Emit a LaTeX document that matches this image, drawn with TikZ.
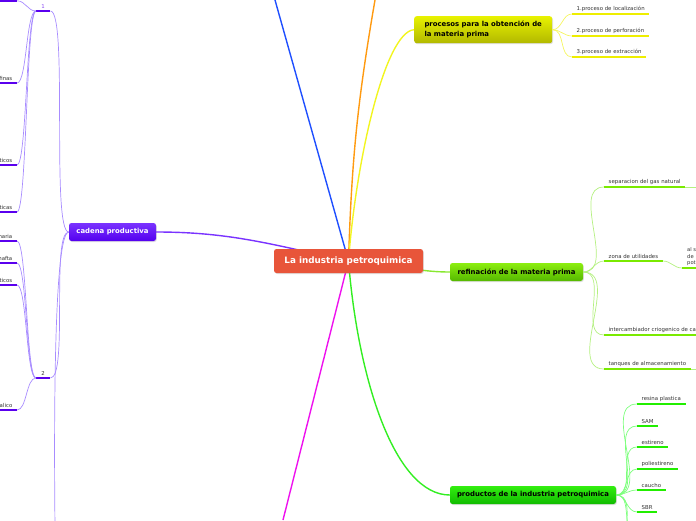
\documentclass[tikz,border=0pt]{standalone}
\usepackage{fontspec}
\setmainfont{DejaVu Sans}
\usetikzlibrary{shadows,backgrounds}
\definecolor{rootred}{HTML}{E8553A}
\definecolor{bblue}{HTML}{1F4FFF}
\definecolor{borange}{HTML}{FF9A10}
\definecolor{byellow}{HTML}{F2F520}
\definecolor{ylight}{HTML}{F5F560}
\definecolor{yline}{HTML}{EEEE00}
\definecolor{ytop}{HTML}{E8F200}
\definecolor{ybot}{HTML}{B2B800}
\definecolor{rgreen}{HTML}{88E830}
\definecolor{rlight}{HTML}{B4F080}
\definecolor{rline}{HTML}{7AEA00}
\definecolor{rtop}{HTML}{8CEE10}
\definecolor{rbot}{HTML}{55B800}
\definecolor{pgreen}{HTML}{33EE22}
\definecolor{plight}{HTML}{7CFF7C}
\definecolor{pline}{HTML}{22EE00}
\definecolor{ptop}{HTML}{33EE10}
\definecolor{pbot}{HTML}{10BB00}
\definecolor{bmag}{HTML}{EE11EE}
\definecolor{bpurple}{HTML}{7A33FF}
\definecolor{ulight}{HTML}{A88CFF}
\definecolor{uline}{HTML}{5A00EE}
\definecolor{utop}{HTML}{7A33FF}
\definecolor{ubot}{HTML}{5400EE}
\definecolor{leaftext}{HTML}{333333}
\tikzset{
  boxbase/.style={rounded corners=2.5pt, inner sep=0pt, font={\fontsize{6.9}{9.6}\selectfont\bfseries},
    drop shadow={shadow xshift=0.8pt,shadow yshift=-1pt,opacity=0.25}},
  rootbox/.style={boxbase, fill=rootred, text=white, minimum width=149pt, minimum height=24pt,
    font={\fontsize{8.8}{10}\selectfont\bfseries}},
  ybox/.style={boxbase, top color=ytop, bottom color=ybot, text=black, minimum width=138pt, minimum height=27pt, align=left},
  rbox/.style={boxbase, top color=rtop, bottom color=rbot, text=black, minimum width=133pt, minimum height=18pt},
  pbox/.style={boxbase, top color=ptop, bottom color=pbot, text=black, minimum width=166pt, minimum height=18pt},
  ubox/.style={boxbase, top color=utop, bottom color=ubot, text=white, minimum width=87pt, minimum height=18pt},
  leaf/.style={anchor=south west, inner xsep=4.5pt, inner ysep=2pt, text=leaftext,
    font={\fontsize{5.4}{6.4}\selectfont}},
  lleaf/.style={leaf, anchor=south east},
  mainconn/.style={line width=1.4pt},
  subconn/.style={line width=0.7pt},
  ulw/.style={line width=2.3pt}
}
\begin{document}
\begin{tikzpicture}[x=1pt,y=-1pt]
\useasboundingbox (0,0) rectangle (696,520);
\clip (0,0) rectangle (696,520);

% ---------- nodes ----------
\node[rootbox] (root) at (348.5,261) {La industria petroquimica};
\node[ybox, anchor=north west] (proc) at (414,16) {procesos para la obtención de\\la materia prima};
\node[rbox] (ref) at (516.5,272) {refinación de la materia prima};
\node[pbox] (prod) at (533,495) {productos de la industria petroquimica};
\node[ubox] (cad) at (112.5,232) {cadena productiva};

% free ends of main branches
\coordinate (btop) at (275,0);
\coordinate (otop) at (375,0);
\coordinate (mbot) at (283,520);

% ---------- main connectors (behind the boxes) ----------
\begin{scope}[on background layer]
\draw[mainconn, bblue] (btop) -- (root.center);
\draw[mainconn, borange] (otop) to[bend right=4] (root.center);
\draw[mainconn, bmag] (mbot) -- (root.center);
\draw[mainconn, byellow] (root.center) .. controls (356,160) and (385,32) .. (proc.west);
\draw[mainconn, pgreen] (root.center) .. controls (358,380) and (395,495) .. (prod.west);
\draw[mainconn, rgreen] (root.center) to[out=0,in=180] (ref.west);
\draw[mainconn, bpurple] (root.center) to[out=168,in=0] (cad.east);
\end{scope}

% ---------- procesos leaves ----------
\node[leaf] (p1) at (572,14) {1.proceso de localización};
\node[leaf] (p2) at (572,36) {2.proceso de perforación};
\node[leaf] (p3) at (572,57) {3.proceso de extracción};
\foreach \n in {p1,p2,p3}{
  \draw[subconn, ylight] (proc.east) to[out=0,in=180] (\n.south west);
  \draw[ulw, yline] (\n.south west) -- (\n.south east);
}

% ---------- refinación leaves ----------
\node[leaf] (r1) at (604,187) {separacion del gas natural};
\node[leaf] (r2) at (604,261) {zona de utilidades};
\node[leaf] (r3) at (604,335) {intercambiador criogenico de ca};
\node[leaf] (r4) at (604,369) {tanques de almacenamiento};
\node[leaf, align=left, inner xsep=0pt, font={\fontsize{5.2}{6.6}\selectfont}] (r21) at (687,268) {al s\\de\\pot};
\coordinate (r21a) at (682,268);
\coordinate (r21b) at (700,268);
\coordinate (r1x) at (720,187);
\coordinate (r3x) at (720,335);
\coordinate (r4x) at (720,369);
\foreach \n in {r1,r2,r3,r4}{
  \draw[subconn, rlight] (ref.east) to[out=0,in=180] (\n.south west);
  \draw[ulw, rline] (\n.south west) -- (\n.south east);
}
\draw[subconn, rlight] (r2.south east) to[out=0,in=180] (r21a);
\draw[ulw, rline] (r21a) -- (r21b);
\draw[subconn, rlight] (r1.south east) -- (r1x);
\draw[ulw, rline] (r3.south east) -- (r3x);
\draw[subconn, rlight] (r4.south east) -- (r4x);

% ---------- productos leaves ----------
\node[leaf] (q1) at (637,404) {resina plastica};
\node[leaf] (q2) at (637,426) {SAM};
\node[leaf] (q3) at (637,447) {estireno};
\node[leaf] (q4) at (637,469) {poliestireno};
\node[leaf] (q5) at (637,490) {caucho};
\node[leaf] (q6) at (637,512) {SBR};
\coordinate (q7) at (637,534);
\coordinate (q8) at (637,556);
\foreach \n in {q1,q2,q3,q4,q5,q6}{
  \draw[subconn, plight] (prod.east) to[out=0,in=180] (\n.south west);
  \draw[ulw, pline] (\n.south west) -- (\n.south east);
}
\draw[subconn, plight] (prod.east) to[out=0,in=180] (q7);
\draw[subconn, plight] (prod.east) to[out=0,in=180] (q8);

% ---------- cadena productiva ----------
\node[leaf, anchor=south west, minimum width=14pt, inner xsep=0pt, text=uline!70] (one) at (36,11) {1};
\node[leaf, anchor=south west, minimum width=14pt, inner xsep=0pt, text=leaftext] (two) at (36,378) {2};
\coordinate (cdown) at (55,530);
\draw[subconn, ulight] (cad.west) to[out=180,in=0,max distance=18pt] (one.south east);
\draw[subconn, ulight] (cad.west) to[out=180,in=0,max distance=18pt] (two.south east);
\draw[subconn, ulight] (cad.west) to[out=180,in=90,max distance=18pt] (cdown);
\draw[ulw, uline] (one.south west) -- (one.south east);
\draw[ulw, uline] (two.south west) -- (two.south east);

\node[lleaf, minimum width=30pt] (a0) at (17,0.8) {};
\node[lleaf] (a1) at (17,83) {finas};
\node[lleaf] (a2) at (17,165) {ticos};
\node[lleaf] (a3) at (17,212) {ticas};
\foreach \n in {a0,a1,a2,a3}{
  \draw[subconn, ulight] (one.south west) to[out=180,in=0,max distance=10pt] (\n.south east);
  \draw[ulw, uline] (\n.south west) -- (\n.south east);
}
\node[lleaf] (b1) at (17,241) {naria};
\node[lleaf] (b2) at (17,263) {nafta};
\node[lleaf] (b3) at (17,285) {ticos};
\node[lleaf] (b4) at (17,410) {alico};
\foreach \n in {b1,b2,b3,b4}{
  \draw[subconn, ulight] (two.south west) to[out=180,in=0,max distance=10pt] (\n.south east);
  \draw[ulw, uline] (\n.south west) -- (\n.south east);
}
\end{tikzpicture}
\end{document}
